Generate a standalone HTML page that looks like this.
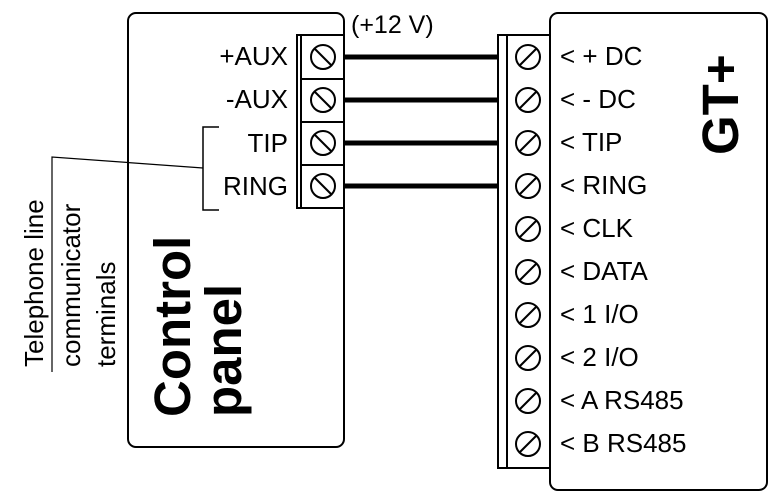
<!DOCTYPE html>
<html><head><meta charset="utf-8"><style>body{margin:0;background:#fff}svg{display:block}</style></head><body>
<svg width="783" height="502" viewBox="0 0 783 502" xmlns="http://www.w3.org/2000/svg" font-family="Liberation Sans, sans-serif">
<rect x="128" y="13" width="216" height="434" rx="8" fill="#fff" stroke="#000" stroke-width="2"/>
<rect x="550" y="13" width="217" height="477" rx="8" fill="#fff" stroke="#000" stroke-width="2"/>
<g stroke="#000" stroke-width="2" fill="#fff">
<rect x="297" y="35" width="47" height="173"/>
<line x1="301" y1="35" x2="301" y2="208"/>
<line x1="301" y1="79" x2="344" y2="79"/><line x1="301" y1="122" x2="344" y2="122"/><line x1="301" y1="165" x2="344" y2="165"/>
</g>
<g stroke="#000" stroke-width="2" fill="none">
<circle cx="323" cy="57" r="12"/><line x1="315" y1="49" x2="331" y2="65"/>
<circle cx="323" cy="100" r="12"/><line x1="315" y1="92" x2="331" y2="108"/>
<circle cx="323" cy="143" r="12"/><line x1="315" y1="135" x2="331" y2="151"/>
<circle cx="323" cy="186" r="12"/><line x1="315" y1="178" x2="331" y2="194"/>
</g>
<g font-size="26" text-anchor="end">
<text x="288" y="65">+AUX</text><text x="288" y="108">-AUX</text><text x="288" y="152">TIP</text><text x="288" y="195">RING</text>
</g>
<polyline points="219,127 203,127 203,210 219,210" fill="none" stroke="#000" stroke-width="1.5"/>
<polyline points="203,168 52,157 52,372" fill="none" stroke="#000" stroke-width="1.2"/>
<g font-size="26">
<text transform="translate(43,367) rotate(-90)">Telephone line</text>
<text transform="translate(80,367) rotate(-90)">communicator</text>
<text transform="translate(115,367) rotate(-90)">terminals</text>
</g>
<g font-size="51" font-weight="bold">
<text transform="translate(190,417) rotate(-90)">Control</text>
<text transform="translate(241,417) rotate(-90)">panel</text>
<text transform="translate(738,155) rotate(-90)">GT+</text>
</g>
<g stroke="#000" stroke-width="5">
<line x1="344" y1="57" x2="499" y2="57"/><line x1="344" y1="100" x2="499" y2="100"/>
<line x1="344" y1="143" x2="499" y2="143"/><line x1="344" y1="186" x2="499" y2="186"/>
</g>
<text x="351" y="33" font-size="25">(+12 V)</text>
<g stroke="#000" stroke-width="2" fill="#fff">
<rect x="498" y="35" width="52" height="433"/>
<line x1="507" y1="35" x2="507" y2="468"/>
</g>
<g stroke="#000" stroke-width="2" fill="none">
<circle cx="528" cy="57" r="12"/><line x1="520" y1="65" x2="536" y2="49"/>
<circle cx="528" cy="100" r="12"/><line x1="520" y1="108" x2="536" y2="92"/>
<circle cx="528" cy="143" r="12"/><line x1="520" y1="151" x2="536" y2="135"/>
<circle cx="528" cy="186" r="12"/><line x1="520" y1="194" x2="536" y2="178"/>
<circle cx="528" cy="229" r="12"/><line x1="520" y1="237" x2="536" y2="221"/>
<circle cx="528" cy="272" r="12"/><line x1="520" y1="280" x2="536" y2="264"/>
<circle cx="528" cy="315" r="12"/><line x1="520" y1="323" x2="536" y2="307"/>
<circle cx="528" cy="358" r="12"/><line x1="520" y1="366" x2="536" y2="350"/>
<circle cx="528" cy="401" r="12"/><line x1="520" y1="409" x2="536" y2="393"/>
<circle cx="528" cy="444" r="12"/><line x1="520" y1="452" x2="536" y2="436"/>
</g>
<g font-size="26">
<text x="560" y="65">&lt; + DC</text><text x="560" y="108">&lt; - DC</text><text x="560" y="151">&lt; TIP</text>
<text x="560" y="194">&lt; RING</text><text x="560" y="237">&lt; CLK</text><text x="560" y="280">&lt; DATA</text>
<text x="560" y="323">&lt; 1 I/O</text><text x="560" y="366">&lt; 2 I/O</text><text x="560" y="409">&lt; A RS485</text>
<text x="560" y="452">&lt; B RS485</text>
</g>
</svg>
</body></html>
